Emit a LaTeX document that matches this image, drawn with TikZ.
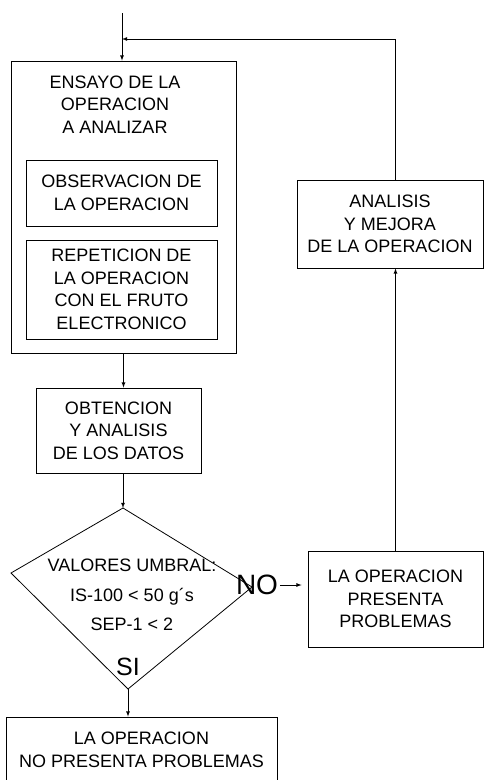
\documentclass[tikz,border=0pt]{standalone}
\usepackage{fontspec}
\setmainfont{Liberation Sans}
\usetikzlibrary{arrows,calc}

\begin{document}
\begin{tikzpicture}[x=1pt,y=-1pt,
        caja/.style={draw, line width=0.8pt, inner sep=0pt},
        texto/.style={align=center, inner sep=0pt, font=\fontsize{18}{22.5}\selectfont},
        flecha/.style={-latex, line width=0.8pt}]
        \useasboundingbox (0,0) rectangle (484,780);
        \clip (0,0) rectangle (484,780);

        % ensayo de la operacion
        \coordinate (entrada) at (122,13);
        \node[caja, minimum width=225pt, minimum height=292pt] (ensayo) at (123.5,207) {};
        \node[texto] (ensayotxt) at (115,104.5) {ENSAYO DE LA\\OPERACION\\A ANALIZAR};
        \node[caja, texto, minimum width=191pt, minimum height=66pt] (observ) at (121.5,193) {OBSERVACION DE\\LA OPERACION};
        \node[caja, texto, minimum width=191pt, minimum height=99pt] (repet) at (121.5,289.5) {REPETICION DE\\LA OPERACION\\CON EL FRUTO\\ELECTRONICO};

        \node[caja, texto, minimum width=165pt, minimum height=85pt] (datos) at (118.5,430.5) {OBTENCION\\Y ANALISIS\\DE LOS DATOS};

        % rombo de decision
        \coordinate (dtop) at (123,508);
        \coordinate (dder) at (252,587);
        \coordinate (dbaj) at (128,689);
        \coordinate (dizq) at (11,573);
        \draw[line width=0.8pt] (dtop) -- (dder) -- (dbaj) -- (dizq) -- cycle;
        \node[texto] (umbral) at (132,595) {VALORES UMBRAL:\\[7pt]IS-100 < 50 g´s\\[7pt]SEP-1 < 2};
        \node[inner sep=0pt, font=\fontsize{25}{25}\selectfont] (si) at (128,667) {SI};
        \node[inner sep=0pt, font=\fontsize{28}{28}\selectfont] (no) at (257,585) {NO};

        \node[caja, texto, minimum width=175pt, minimum height=96pt] (presenta) at (395.5,599) {LA OPERACION\\PRESENTA\\PROBLEMAS};
        \node[caja, texto, minimum width=186pt, minimum height=88pt] (analisis) at (390,224) {ANALISIS\\Y MEJORA\\DE LA OPERACION};
        \node[caja, texto, minimum width=271pt, minimum height=66pt] (final) at (141.5,750) {LA OPERACION\\NO PRESENTA PROBLEMAS};
        \coordinate (retorno) at (395.5,39);

        % flechas
        \draw[flecha] (entrada) -- (entrada |- ensayo.north);
        \draw[flecha] (ensayo.south) -- (ensayo.south |- datos.north);
        \draw[flecha] (datos.south -| dtop) -- (dtop);
        \draw[flecha, shorten <=2pt, shorten >=6pt] (no.east) -- (no.east -| presenta.west);
        \draw[flecha] (dbaj) -- (dbaj |- final.north);
        \draw[flecha] (presenta.north) -- (presenta.north |- analisis.south);
        \draw[flecha] (presenta.north |- analisis.north) -- (retorno) -- (retorno -| entrada);
    \end{tikzpicture}
\end{document}
